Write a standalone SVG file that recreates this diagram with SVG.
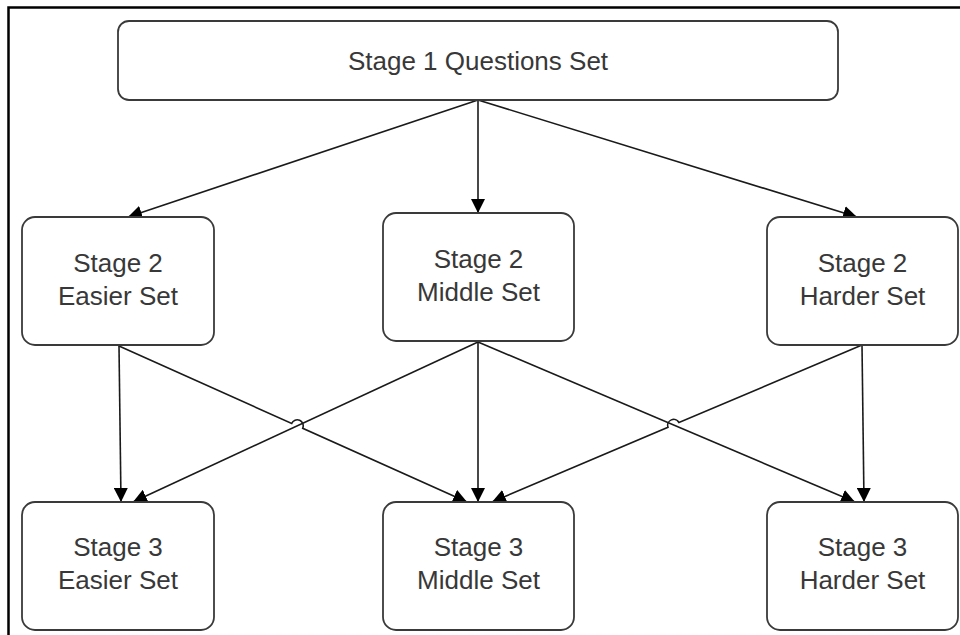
<svg xmlns="http://www.w3.org/2000/svg" width="960" height="635" viewBox="0 0 960 635">
<style>
.box{fill:#fff;stroke:#3a3a3a;stroke-width:1.8}
.lbl{font-family:"Liberation Sans",Arial,sans-serif;font-size:26px;fill:#383838;text-anchor:middle}
.ln{fill:none;stroke:#1a1a1a;stroke-width:1.6}
</style>
<defs>
<marker id="ah" markerUnits="userSpaceOnUse" markerWidth="16" markerHeight="14" refX="14" refY="7" orient="auto">
<path d="M0,0 L14,7 L0,14 Z" fill="#000"/>
</marker>
</defs>
<rect width="960" height="635" fill="#fff"/>
<path d="M8.5,635 V7.5 H960" fill="none" stroke="#000" stroke-width="2.5"/>
<g id="connectors">
<path class="ln" d="M478,100 L128,217" marker-end="url(#ah)"/>
<path class="ln" d="M478,100 L478,213" marker-end="url(#ah)"/>
<path class="ln" d="M478,100 L857,217" marker-end="url(#ah)"/>
<path class="ln" d="M119,346 L121,502" marker-end="url(#ah)"/>
<path class="ln" d="M478,342 L133,502" marker-end="url(#ah)"/>
<path class="ln" d="M119,346 L291.7,423.4 A6,6 0 0 1 302.7,428.3 L467,502" marker-end="url(#ah)"/>
<path class="ln" d="M478,342 L478,502" marker-end="url(#ah)"/>
<path class="ln" d="M862,345 L679,422.6 A6,6 0 0 0 668,427.3 L492,502" marker-end="url(#ah)"/>
<path class="ln" d="M478,342 L855,502" marker-end="url(#ah)"/>
<path class="ln" d="M862,345 L864,502" marker-end="url(#ah)"/>
</g>
<g id="stage1">
<rect class="box" x="118" y="21" width="720" height="79" rx="11"/>
<text class="lbl" x="478" y="70">Stage 1 Questions Set</text>
</g>
<g id="s2-easier">
<rect class="box" x="22" y="217" width="192" height="128" rx="13"/>
<text class="lbl" x="118" y="272">Stage 2</text>
<text class="lbl" x="118" y="305">Easier Set</text>
</g>
<g id="s2-middle">
<rect class="box" x="383" y="213" width="191" height="128" rx="13"/>
<text class="lbl" x="478.5" y="268">Stage 2</text>
<text class="lbl" x="478.5" y="301">Middle Set</text>
</g>
<g id="s2-harder">
<rect class="box" x="767" y="217" width="191" height="128" rx="13"/>
<text class="lbl" x="862.5" y="272">Stage 2</text>
<text class="lbl" x="862.5" y="305">Harder Set</text>
</g>
<g id="s3-easier">
<rect class="box" x="22" y="502" width="192" height="128" rx="13"/>
<text class="lbl" x="118" y="556">Stage 3</text>
<text class="lbl" x="118" y="589">Easier Set</text>
</g>
<g id="s3-middle">
<rect class="box" x="383" y="502" width="191" height="128" rx="13"/>
<text class="lbl" x="478.5" y="556">Stage 3</text>
<text class="lbl" x="478.5" y="589">Middle Set</text>
</g>
<g id="s3-harder">
<rect class="box" x="767" y="502" width="191" height="128" rx="13"/>
<text class="lbl" x="862.5" y="556">Stage 3</text>
<text class="lbl" x="862.5" y="589">Harder Set</text>
</g>
</svg>
